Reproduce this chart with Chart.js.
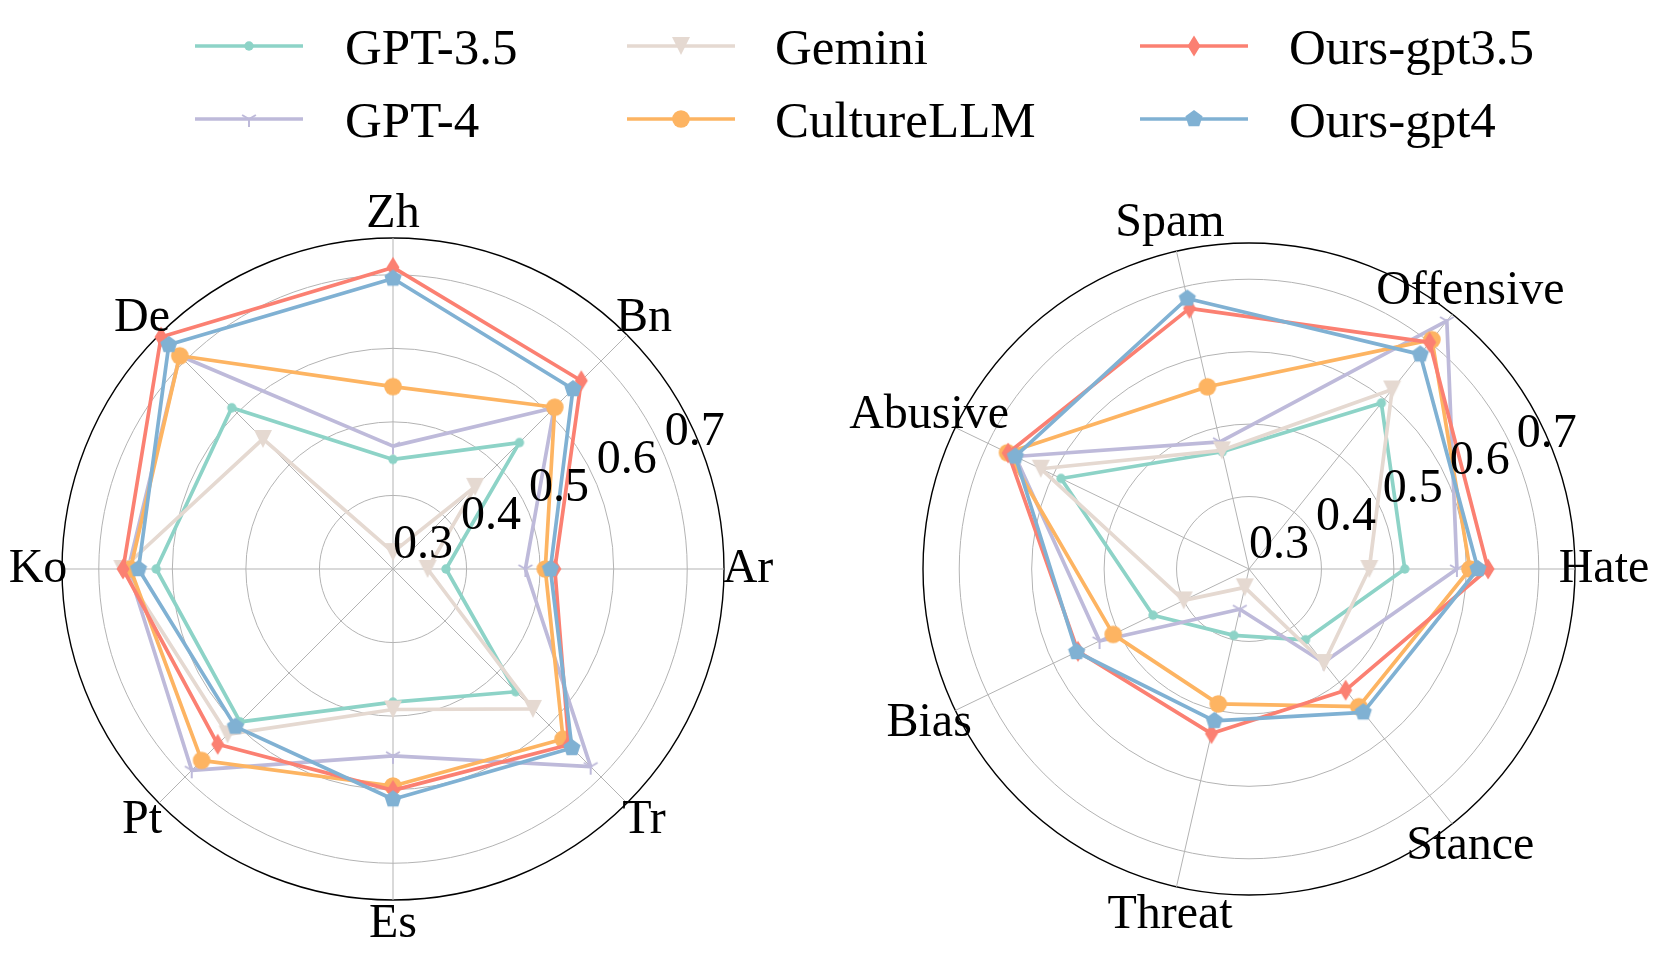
<!DOCTYPE html>
<html>
<head>
<meta charset="utf-8">
<script src="https://cdn.jsdelivr.net/npm/chart.js@4.4.1/dist/chart.umd.min.js"></script>
<style>
  html, body { margin: 0; padding: 0; background: #fff; overflow: hidden; }
  body { width: 1661px; height: 954px; position: relative; font-family: "Liberation Serif", serif; }
  .box { position: absolute; }
  .swatch { position: absolute; }
  .legend-text { position: absolute; font-size: 51px; line-height: 51px; color: #000; white-space: nowrap; }
</style>
</head>
<body>
<div id="legend"></div>
<div class="box" style="left:0px; top:150px; width:800px; height:804px;"><canvas id="langChart"></canvas></div>
<div class="box" style="left:840px; top:150px; width:821px; height:804px;"><canvas id="taskChart"></canvas></div>
<script>
const FONT = '"Liberation Serif", serif';
const LABEL_SIZE = 48;

// categories, counter-clockwise starting at 3 o'clock
const langLabels = ['Ar', 'Bn', 'Zh', 'De', 'Ko', 'Pt', 'Es', 'Tr'];
const taskLabels = ['Hate', 'Offensive', 'Spam', 'Abusive', 'Bias', 'Threat', 'Stance'];

const seriesNames = ['GPT-3.5', 'GPT-4', 'Gemini', 'CultureLLM', 'Ours-gpt3.5', 'Ours-gpt4'];
const seriesColors = ['#8dd3c7', '#bebada', '#e5d9d1', '#fdb462', '#fb8072', '#80b1d3'];
const seriesMarkers = ['dot', 'tri_down', 'triangle_down', 'circle', 'thin_diamond', 'pentagon'];

// radial axis
const ringValues = [0.3, 0.4, 0.5, 0.6, 0.7, 0.75];
const tickValues = [0.3, 0.4, 0.5, 0.6, 0.7];
const tickLabels = ['0.3', '0.4', '0.5', '0.6', '0.7'];

// language scores (Ar, Bn, Zh, De, Ko, Pt, Es, Tr)
const gpt35Lang   = [0.372, 0.543, 0.449, 0.610, 0.622, 0.594, 0.481, 0.536];
const gpt4Lang    = [0.480, 0.610, 0.467, 0.710, 0.660, 0.687, 0.554, 0.680];
const geminiLang  = [0.347, 0.458, 0.323, 0.550, 0.668, 0.618, 0.491, 0.569];
const cultureLang = [0.507, 0.611, 0.548, 0.710, 0.657, 0.668, 0.595, 0.627];
const ours35Lang  = [0.520, 0.662, 0.710, 0.746, 0.667, 0.637, 0.601, 0.638];
const ours4Lang   = [0.514, 0.646, 0.695, 0.731, 0.646, 0.603, 0.613, 0.644];

// task scores (Hate, Offensive, Spam, Abusive, Bias, Threat, Stance)
const gpt35Task   = [0.515, 0.593, 0.466, 0.588, 0.447, 0.394, 0.425];
const gpt4Task    = [0.587, 0.738, 0.480, 0.658, 0.529, 0.357, 0.465];
const geminiTask  = [0.466, 0.617, 0.468, 0.619, 0.400, 0.326, 0.466];
const cultureTask = [0.605, 0.705, 0.558, 0.670, 0.508, 0.491, 0.543];
const ours35Task  = [0.630, 0.700, 0.669, 0.669, 0.562, 0.533, 0.514];
const ours4Task   = [0.616, 0.679, 0.683, 0.658, 0.564, 0.515, 0.553];

// Chart.js goes clockwise, the reference goes counter-clockwise
const toClockwise = arr => [arr[0]].concat(arr.slice(1).reverse());

function drawMarker(ctx, shape, x, y, color) {
  ctx.save();
  ctx.fillStyle = color;
  ctx.strokeStyle = color;
  ctx.beginPath();
  if (shape === 'dot') {
    ctx.arc(x, y, 4.7, 0, 2 * Math.PI);
    ctx.fill();
  } else if (shape === 'circle') {
    ctx.arc(x, y, 8.8, 0, 2 * Math.PI);
    ctx.fill();
  } else if (shape === 'tri_down') {
    ctx.lineWidth = 2;
    ctx.moveTo(x, y); ctx.lineTo(x, y + 8);
    ctx.moveTo(x, y); ctx.lineTo(x - 6.9, y - 4);
    ctx.moveTo(x, y); ctx.lineTo(x + 6.9, y - 4);
    ctx.stroke();
  } else if (shape === 'triangle_down') {
    ctx.moveTo(x - 9, y - 9);
    ctx.lineTo(x + 9, y - 9);
    ctx.lineTo(x, y + 9);
    ctx.closePath();
    ctx.fill();
  } else if (shape === 'thin_diamond') {
    ctx.moveTo(x, y - 10.5);
    ctx.lineTo(x + 6.5, y);
    ctx.lineTo(x, y + 10.5);
    ctx.lineTo(x - 6.5, y);
    ctx.closePath();
    ctx.fill();
  } else if (shape === 'pentagon') {
    for (let k = 0; k < 5; k++) {
      const a = -Math.PI / 2 + k * 2 * Math.PI / 5;
      ctx.lineTo(x + 9 * Math.cos(a), y + 9 * Math.sin(a));
    }
    ctx.closePath();
    ctx.fill();
  }
  ctx.restore();
}

function markerCanvas(shape, color) {
  const c = document.createElement('canvas');
  c.width = 24;
  c.height = 24;
  drawMarker(c.getContext('2d'), shape, 12, 12, color);
  return c;
}

const markerImages = seriesMarkers.map((m, i) => markerCanvas(m, seriesColors[i]));

// legend (3 columns x 2 rows)
const legendLineX = [195, 627, 1140];
const legendTextX = [345, 775, 1289];
const legendRowY = [45.7, 118.7];
const legendEl = document.getElementById('legend');
seriesNames.forEach((name, i) => {
  const col = Math.floor(i / 2), row = i % 2;
  const sw = document.createElement('canvas');
  sw.width = 112; sw.height = 40;
  sw.className = 'swatch';
  sw.style.left = legendLineX[col] + 'px';
  sw.style.top = (legendRowY[row] - 20) + 'px';
  const c = sw.getContext('2d');
  c.strokeStyle = seriesColors[i];
  c.lineWidth = 3.7;
  c.beginPath();
  c.moveTo(0, 20); c.lineTo(108, 20);
  c.stroke();
  drawMarker(c, seriesMarkers[i], 54, 20, seriesColors[i]);
  legendEl.appendChild(sw);

  const t = document.createElement('div');
  t.className = 'legend-text';
  t.textContent = name;
  t.style.left = legendTextX[col] + 'px';
  t.style.top = (legendRowY[row] - 24) + 'px';
  legendEl.appendChild(t);
});

// category labels centred just outside the outer ring (matplotlib style)
const centredPointLabels = {
  id: 'centredPointLabels',
  afterDatasetsDraw(chart, args, opts) {
    const s = chart.scales.r;
    const ctx = chart.ctx;
    ctx.save();
    ctx.font = 'normal ' + LABEL_SIZE + 'px ' + FONT;
    ctx.fillStyle = '#000';
    ctx.textAlign = 'center';
    ctx.textBaseline = 'middle';
    chart.data.labels.forEach((label, i) => {
      const p = s.getPointPosition(i, s.drawingArea + opts.offset);
      ctx.fillText(label, p.x, p.y);
    });
    ctx.restore();
  }
};

// tick labels drawn at 22.5 deg like matplotlib
const radialTickLabels = {
  id: 'radialTickLabels',
  afterDatasetsDraw(chart) {
    const s = chart.scales.r;
    const ctx = chart.ctx;
    const a = 22.5 * Math.PI / 180;
    ctx.save();
    ctx.font = 'normal ' + LABEL_SIZE + 'px ' + FONT;
    ctx.fillStyle = '#000';
    ctx.textAlign = 'left';
    ctx.textBaseline = 'bottom';
    tickValues.forEach((v, i) => {
      const d = s.getDistanceFromCenterForValue(v);
      ctx.fillText(tickLabels[i], s.xCenter + d * Math.cos(a), s.yCenter - d * Math.sin(a));
    });
    ctx.restore();
  }
};

function makeDatasets(valueLists) {
  return seriesNames.map((name, i) => ({
    label: name,
    data: toClockwise(valueLists[i]),
    borderColor: seriesColors[i],
    backgroundColor: seriesColors[i],
    borderWidth: 3.7,
    borderJoinStyle: 'round',
    fill: false,
    tension: 0,
    pointStyle: markerImages[i],
    pointRadius: 5,
    pointBorderWidth: 0,
    order: seriesNames.length - i
  }));
}

function makeRadar(canvasId, labels, valueLists, padding, labelOffset) {
  return new Chart(document.getElementById(canvasId), {
    type: 'radar',
    data: {
      labels: toClockwise(labels),
      datasets: makeDatasets(valueLists)
    },
    options: {
      responsive: true,
      maintainAspectRatio: false,
      animation: false,
      events: [],
      layout: { padding: padding },
      plugins: {
        legend: { display: false },
        tooltip: { enabled: false },
        centredPointLabels: { offset: labelOffset }
      },
      scales: {
        r: {
          min: 0.3,
          max: 0.75,
          startAngle: 90,
          afterBuildTicks: (scale) => {
            scale.ticks = ringValues.map(v => ({ value: v }));
          },
          ticks: { display: false },
          grid: {
            circular: true,
            color: (c) => (c.tick && c.tick.value > 0.74 ? '#000' : '#b3b3b3'),
            lineWidth: (c) => (c.tick && c.tick.value > 0.74 ? 1.4 : 1)
          },
          angleLines: { color: '#b3b3b3', lineWidth: 1 },
          pointLabels: { display: false }
        }
      }
    },
    plugins: [centredPointLabels, radialTickLabels]
  });
}

makeRadar('langChart', langLabels,
  [gpt35Lang, gpt4Lang, geminiLang, cultureLang, ours35Lang, ours4Lang],
  { left: 62, right: 76, top: 88, bottom: 54 }, 24);
makeRadar('taskChart', taskLabels,
  [gpt35Task, gpt4Task, geminiTask, cultureTask, ours35Task, ours4Task],
  { left: 83, right: 86, top: 93, bottom: 59 }, 29);
</script>
</body>
</html>
